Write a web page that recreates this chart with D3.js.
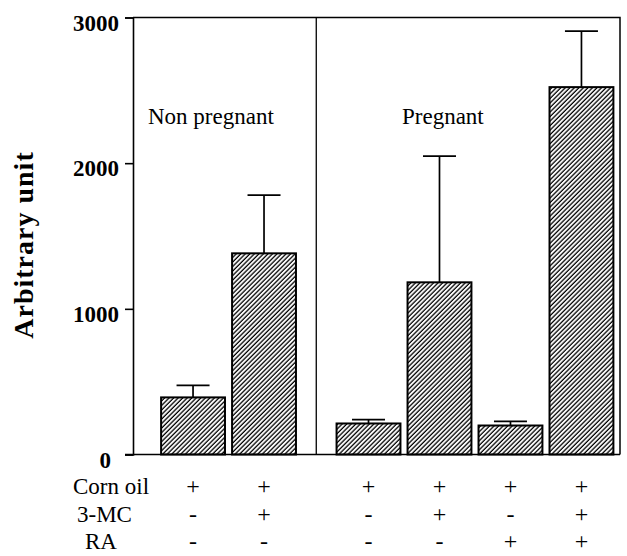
<!DOCTYPE html>
<html>
<head>
<meta charset="utf-8">
<script src="https://cdn.jsdelivr.net/npm/d3@7"></script>
<style>
  body { margin: 0; background: #fff; }
  text { font-family: "Liberation Serif", "Times New Roman", serif; fill: #000; }
</style>
</head>
<body>
<script>
// data
const categories = ["NP corn oil", "NP 3-MC", "P corn oil", "P 3-MC", "P RA", "P 3-MC+RA"];
const groups = ["Non pregnant", "Non pregnant", "Pregnant", "Pregnant", "Pregnant", "Pregnant"];
const means = [392, 1381, 213, 1182, 199, 2522];
const errors = [82, 399, 27, 866, 28, 385];
const yTicks = [0, 1000, 2000, 3000];

const rowNames = ["Corn oil", "3-MC", "RA"];
const cornOil = ["+", "+", "+", "+", "+", "+"];
const mc = ["-", "+", "-", "+", "-", "+"];
const ra = ["-", "-", "-", "-", "+", "+"];
const rows = [cornOil, mc, ra];

const width = 627, height = 556;
const plotL = 133, plotR = 620, plotT = 17.5, plotB = 454.5;
const groupGap = 33.5;

const svg = d3.select("body").append("svg")
  .attr("width", width)
  .attr("height", height);

// hatch fill
svg.append("defs").append("pattern")
  .attr("id", "hatch")
  .attr("patternUnits", "userSpaceOnUse")
  .attr("width", 3.2)
  .attr("height", 3.2)
  .attr("patternTransform", "rotate(45)")
  .append("line")
  .attr("x1", 1).attr("y1", 0)
  .attr("x2", 1).attr("y2", 3.2)
  .attr("stroke", "#000")
  .attr("stroke-width", 1.3);

const x = d3.scaleBand().domain(categories).range([154, 587]).padding(0.1);
const y = d3.scaleLinear().domain([0, 3000]).range([plotB, plotT]);

const xPos = (d, i) => x(d) + (groups[i] === "Pregnant" ? groupGap : 0);

// frame
svg.append("path")
  .attr("d", `M${plotL},${plotT}H${plotR}V${plotB}`)
  .attr("fill", "none").attr("stroke", "#000").attr("stroke-width", 1.5);
svg.append("line")
  .attr("x1", plotL - 8).attr("x2", plotR)
  .attr("y1", plotB).attr("y2", plotB)
  .attr("stroke", "#000").attr("stroke-width", 1.6);

// divider between the two groups
const divX = (xPos(categories[1], 1) + x.bandwidth() + xPos(categories[2], 2)) / 2;
svg.append("line")
  .attr("x1", divX).attr("x2", divX)
  .attr("y1", plotT).attr("y2", plotB)
  .attr("stroke", "#000").attr("stroke-width", 1.3);

// y axis
const yAxis = svg.append("g")
  .attr("transform", `translate(${plotL},0)`)
  .call(d3.axisLeft(y).tickValues(yTicks).tickFormat(d3.format("d")).tickSize(8).tickPadding(6));
yAxis.select(".domain").attr("stroke-width", 1.6);
yAxis.selectAll(".tick line").attr("stroke-width", 1.6);
yAxis.selectAll(".tick text")
  .attr("font-family", "Liberation Serif")
  .attr("font-weight", "bold")
  .attr("font-size", 23)
  .attr("dy", "0.55em")
  .attr("dx", d => d === 0 ? -8 : 0);

svg.append("text")
  .attr("transform", "translate(33,245) rotate(-90)")
  .attr("text-anchor", "middle")
  .attr("font-weight", "bold")
  .attr("font-size", 28)
  .attr("letter-spacing", 1)
  .text("Arbitrary unit");

// bars
svg.selectAll("rect.bar")
  .data(categories)
  .enter().append("rect")
  .attr("class", "bar")
  .attr("x", (d, i) => xPos(d, i))
  .attr("y", (d, i) => y(means[i]))
  .attr("width", x.bandwidth())
  .attr("height", (d, i) => y(0) - y(means[i]))
  .attr("fill", "url(#hatch)")
  .attr("stroke", "#000")
  .attr("stroke-width", 2);

// error bars
const capW = 33;
const err = svg.selectAll("g.err")
  .data(categories)
  .enter().append("g")
  .attr("class", "err")
  .attr("stroke", "#000")
  .attr("stroke-width", 1.7);
err.append("line")
  .attr("x1", (d, i) => xPos(d, i) + x.bandwidth() / 2)
  .attr("x2", (d, i) => xPos(d, i) + x.bandwidth() / 2)
  .attr("y1", (d, i) => y(means[i]))
  .attr("y2", (d, i) => y(means[i] + errors[i]));
err.append("line")
  .attr("x1", (d, i) => xPos(d, i) + x.bandwidth() / 2 - capW / 2)
  .attr("x2", (d, i) => xPos(d, i) + x.bandwidth() / 2 + capW / 2)
  .attr("y1", (d, i) => y(means[i] + errors[i]))
  .attr("y2", (d, i) => y(means[i] + errors[i]));

// group labels
svg.append("text").attr("x", 148).attr("y", 124)
  .attr("font-size", 23).text("Non pregnant");
svg.append("text").attr("x", 402).attr("y", 124)
  .attr("font-size", 23).text("Pregnant");

// treatment table
const rowY = [494, 521.5, 549];
const rowX = [73, 77, 85];
rowNames.forEach((name, r) => {
  svg.append("text")
    .attr("x", rowX[r]).attr("y", rowY[r])
    .attr("font-size", 23)
    .text(name);
  svg.selectAll(null)
    .data(rows[r])
    .enter().append("text")
    .attr("x", (d, i) => xPos(categories[i], i) + x.bandwidth() / 2)
    .attr("y", rowY[r])
    .attr("text-anchor", "middle")
    .attr("font-size", 24)
    .text(d => d);
});
</script>
</body>
</html>
